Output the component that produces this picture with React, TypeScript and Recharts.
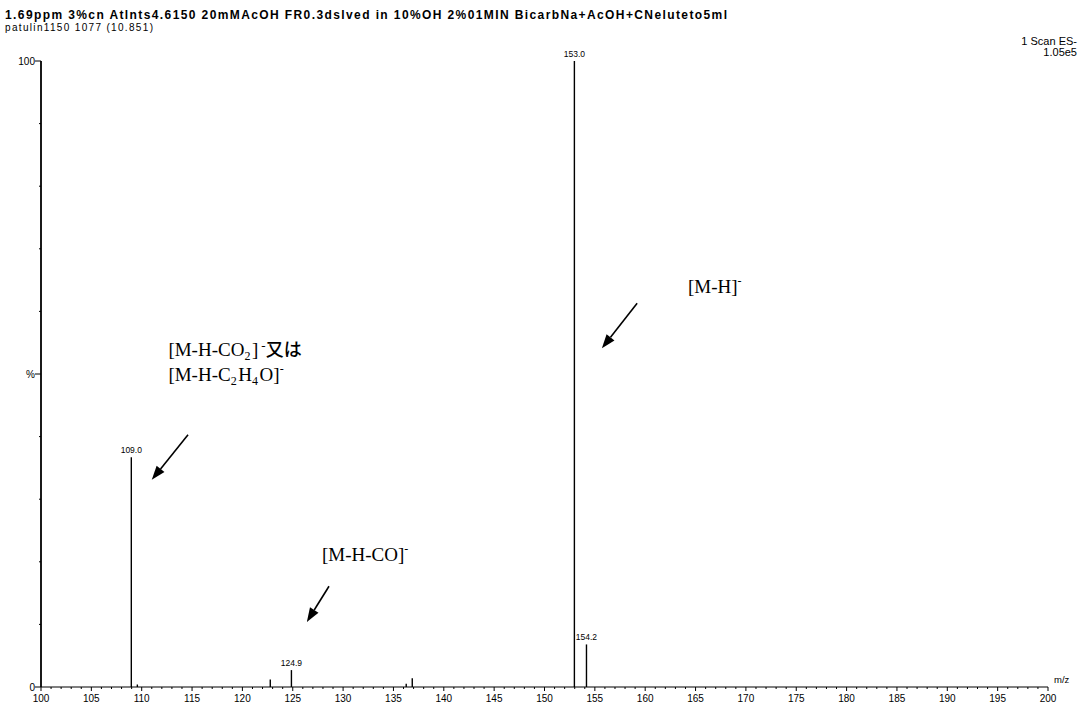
import React from "react";
import {
  ComposedChart,
  Bar,
  XAxis,
  YAxis,
  LabelList,
  ReferenceLine,
  ReferenceDot,
} from "recharts";

// Centroided peaks of the negative-ion ESI scan (m/z, relative intensity %)
const mzValues = [109.0, 109.6, 122.8, 124.9, 136.3, 136.9, 153.0, 154.2];
const intensities = [36.7, 0.4, 1.2, 2.7, 0.5, 1.4, 100, 6.8];
const peakLabels = ["109.0", "", "", "124.9", "", "", "153.0", "154.2"];

// Axis ticks
const xMajorTicks = [100, 105, 110, 115, 120, 125, 130, 135, 140, 145, 150, 155, 160, 165, 170, 175, 180, 185, 190, 195, 200];
const xAllTicks = Array.from({ length: 101 }, (_, i) => 100 + i);
const yTicks = [0, 10, 20, 30, 40, 50, 60, 70, 80, 90, 100];
const yTickText: Record<number, string> = { 0: "0", 50: "%", 100: "100" };

// Header text
const titleLine = "1.69ppm 3%cn Atlnts4.6150 20mMAcOH FR0.3dslved in 10%OH 2%01MIN BicarbNa+AcOH+CNeluteto5ml";
const subTitleLine = "patulin1150 1077 (10.851)";
const scanLine = "1  Scan ES-";
const scaleLine = "1.05e5";

// Ion annotations: arrow tail/head and text anchor in data units
const arrows = [
  { tail: { x: 159.2, y: 61.3 }, head: { x: 155.7, y: 54.1 } },
  { tail: { x: 114.6, y: 40.3 }, head: { x: 111.0, y: 33.1 } },
  { tail: { x: 128.6, y: 16.1 }, head: { x: 126.4, y: 10.4 } },
];

const spectrum = mzValues.map((mz, i) => ({
  mz,
  intensity: intensities[i],
  label: peakLabels[i],
}));

const SERIF = "'Liberation Serif', 'Times New Roman', serif";
const SANS = "'Liberation Sans', Arial, sans-serif";
const CJK = "'Noto Sans CJK JP', sans-serif";

const XTick = (props: any) => {
  const { x, y, payload } = props;
  const v = payload.value as number;
  const major = xMajorTicks.includes(v);
  return (
    <g>
      <line x1={x} x2={x} y1={y} y2={y + (major ? 4 : 2)} stroke="#000" strokeWidth={1} />
      {major && (
        <text x={x} y={y + 15} textAnchor="middle" fontFamily={SANS} fontSize={10} fill="#000">
          {v}
        </text>
      )}
    </g>
  );
};

const YTick = (props: any) => {
  const { x, y, payload } = props;
  const v = payload.value as number;
  const txt = yTickText[v];
  return (
    <g>
      <line x1={x - (txt ? 6 : 2)} x2={x} y1={y} y2={y} stroke="#000" strokeWidth={1} />
      {txt && (
        <text x={x - 6} y={y + 3.5} textAnchor="end" fontFamily={SANS} fontSize={10} fill="#000">
          {txt}
        </text>
      )}
    </g>
  );
};

const PeakLabel = (props: any) => {
  const { x, y, width, value } = props;
  if (!value) return null;
  return (
    <text x={x + width / 2} y={y - 4} textAnchor="middle" fontFamily={SANS} fontSize={8.5} fill="#000">
      {value}
    </text>
  );
};

const ArrowShape = (props: any) => {
  const { x1, y1, x2, y2 } = props;
  const dx = x2 - x1;
  const dy = y2 - y1;
  const len = Math.sqrt(dx * dx + dy * dy) || 1;
  const ux = dx / len;
  const uy = dy / len;
  const headLen = 14;
  const headHalf = 5;
  const bx = x2 - ux * headLen;
  const by = y2 - uy * headLen;
  const pts = `${x2},${y2} ${bx - uy * headHalf},${by + ux * headHalf} ${bx + uy * headHalf},${by - ux * headHalf}`;
  return (
    <g>
      <line x1={x1} y1={y1} x2={bx} y2={by} stroke="#000" strokeWidth={1.6} />
      <polygon points={pts} fill="#000" />
    </g>
  );
};

const Sub = ({ children }: { children: React.ReactNode }) => (
  <>
    <tspan dy={4} fontSize={12}>{children}</tspan>
    <tspan dy={-4}>{"\u200A"}</tspan>
  </>
);

const MHLabel = (props: any) => (
  <text x={props.cx} y={props.cy} fontFamily={SERIF} fontSize={19} fill="#000">
    [M-H]
    <tspan dy={-8} fontSize={12}>-</tspan>
  </text>
);

const MHCO2Label = (props: any) => (
  <g>
    <text x={props.cx} y={props.cy} fontFamily={SERIF} fontSize={19} fill="#000">
      [M-H-CO
      <Sub>2</Sub>
      ]
      <tspan dx={3} dy={-6} fontSize={13}>-</tspan>
      <tspan dy={6} fontFamily={CJK} fontSize={18} fontWeight={500}>又は</tspan>
    </text>
    <text x={props.cx} y={props.cy + 25} fontFamily={SERIF} fontSize={19} fill="#000">
      [M-H-C
      <Sub>2</Sub>
      H
      <Sub>4</Sub>
      O]
      <tspan dy={-8} fontSize={12}>-</tspan>
    </text>
  </g>
);

const MHCOLabel = (props: any) => (
  <text x={props.cx} y={props.cy} fontFamily={SERIF} fontSize={19} fill="#000">
    [M-H-CO]
    <tspan dy={-8} fontSize={12}>-</tspan>
  </text>
);

export default function App() {
  return (
    <div style={{ position: "absolute", left: 0, top: 0, width: 1081, height: 708, background: "#fff" }}>
      <ComposedChart
        width={1081}
        height={708}
        data={spectrum}
        margin={{ top: 61, right: 33, bottom: 0, left: 0 }}
      >
        <XAxis
          dataKey="mz"
          type="number"
          domain={[100, 200]}
          ticks={xAllTicks}
          interval={0}
          tick={<XTick />}
          tickSize={0}
          tickMargin={0}
          tickLine={false}
          height={21}
          axisLine={{ stroke: "#000", strokeWidth: 1.2 }}
          allowDataOverflow
        />
        <YAxis
          type="number"
          domain={[0, 100]}
          ticks={yTicks}
          interval={0}
          tick={<YTick />}
          tickSize={0}
          tickMargin={0}
          tickLine={false}
          width={41}
          axisLine={{ stroke: "#000", strokeWidth: 1.8 }}
        />
        <Bar dataKey="intensity" fill="#000" barSize={1.4} isAnimationActive={false}>
          <LabelList dataKey="label" content={<PeakLabel />} />
        </Bar>
        {arrows.map((a, i) => (
          <ReferenceLine
            key={i}
            segment={[a.tail, a.head]}
            shape={<ArrowShape />}
            ifOverflow="visible"
          />
        ))}
        <ReferenceDot x={164.25} y={62.9} r={0} shape={<MHLabel />} ifOverflow="visible" />
        <ReferenceDot x={112.65} y={52.8} r={0} shape={<MHCO2Label />} ifOverflow="visible" />
        <ReferenceDot x={127.9} y={20.2} r={0} shape={<MHCOLabel />} ifOverflow="visible" />
      </ComposedChart>
      <svg
        width={1081}
        height={708}
        style={{ position: "absolute", left: 0, top: 0, pointerEvents: "none" }}
      >
        <text x={5} y={19} fontFamily={SANS} fontSize={12} fontWeight={700} fill="#000"
          textLength={722} lengthAdjust="spacing">
          {titleLine}
        </text>
        <text x={5} y={31} fontFamily={SANS} fontSize={10} fill="#000"
          textLength={148} lengthAdjust="spacing">
          {subTitleLine}
        </text>
        <text x={1077} y={45} textAnchor="end" fontFamily={SANS} fontSize={11} fill="#000">
          {scanLine}
        </text>
        <text x={1077} y={56} textAnchor="end" fontFamily={SANS} fontSize={11} fill="#000">
          {scaleLine}
        </text>
        <text x={1054} y={683} fontFamily={SANS} fontSize={9.5} fill="#000">
          m/z
        </text>
      </svg>
    </div>
  );
}
